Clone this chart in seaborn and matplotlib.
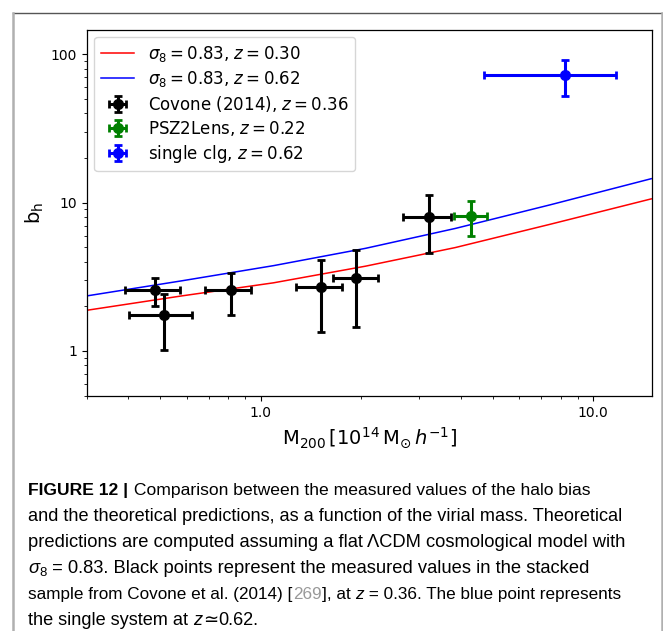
import matplotlib
matplotlib.use("Agg")
import matplotlib.pyplot as plt
import seaborn as sns
from matplotlib.lines import Line2D
from matplotlib.ticker import LogLocator, NullFormatter

# ---------------- data ----------------
curve_mass = [0.30, 0.579, 1.094, 2.07, 3.855, 7.44, 14.97]
bias_z030 = [1.88, 2.35, 2.88, 3.73, 4.98, 7.15, 10.6]
bias_z062 = [2.35, 2.97, 3.76, 4.92, 6.70, 9.67, 14.5]

covone_mass = [0.481, 0.512, 0.813, 1.52, 1.94, 3.21]
covone_mass_lo = [0.391, 0.402, 0.680, 1.28, 1.65, 2.68]
covone_mass_hi = [0.571, 0.620, 0.939, 1.76, 2.25, 3.75]
covone_bias = [2.57, 1.74, 2.57, 2.72, 3.10, 7.98]
covone_bias_lo = [2.01, 1.02, 1.76, 1.35, 1.45, 4.57]
covone_bias_hi = [3.11, 2.41, 3.38, 4.10, 4.81, 11.3]

psz_mass, psz_mass_lo, psz_mass_hi = [4.31], [3.81], [4.80]
psz_bias, psz_bias_lo, psz_bias_hi = [8.10], [5.93], [10.2]

clg_mass, clg_mass_lo, clg_mass_hi = [8.22], [4.71], [11.73]
clg_bias, clg_bias_lo, clg_bias_hi = [72.5], [52.3], [92.2]

legend_labels = [r"$\sigma_8 = 0.83$, $z = 0.30$",
                 r"$\sigma_8 = 0.83$, $z = 0.62$",
                 r"Covone (2014), $z = 0.36$",
                 r"PSZ2Lens, $z = 0.22$",
                 r"single clg, $z = 0.62$"]

x_ticks = [1.0, 10.0]
x_tick_labels = ["1.0", "10.0"]
y_ticks = [1, 10, 100]
y_tick_labels = ["1", "10", "100"]

# ---------------- figure ----------------
W, H = 663, 631
fig = plt.figure(figsize=(W / 100, H / 100), dpi=100)
fig.patch.set_facecolor("white")


def fx(px):
    return px / W


def fy(py):
    return 1 - py / H


ax = fig.add_axes([fx(86.7), fy(396), fx(651.5) - fx(86.7), fy(29.5) - fy(396)])
ax.set_xscale("log")
ax.set_yscale("log")

sns.lineplot(x=curve_mass, y=bias_z030, color="red", lw=1.1, label=legend_labels[0], ax=ax)
sns.lineplot(x=curve_mass, y=bias_z062, color="blue", lw=1.1, label=legend_labels[1], ax=ax)


def asym(v, lo, hi):
    return [[a - b for a, b in zip(v, lo)], [c - a for a, c in zip(v, hi)]]


eb_kw = dict(fmt="o", ms=7, elinewidth=2.2, capsize=3, capthick=2)
ax.errorbar(covone_mass, covone_bias, xerr=asym(covone_mass, covone_mass_lo, covone_mass_hi),
            yerr=asym(covone_bias, covone_bias_lo, covone_bias_hi), color="black",
            label=legend_labels[2], **eb_kw)
ax.errorbar(psz_mass, psz_bias, xerr=asym(psz_mass, psz_mass_lo, psz_mass_hi),
            yerr=asym(psz_bias, psz_bias_lo, psz_bias_hi), color="green",
            label=legend_labels[3], **eb_kw)
ax.errorbar(clg_mass, clg_bias, xerr=asym(clg_mass, clg_mass_lo, clg_mass_hi),
            yerr=asym(clg_bias, clg_bias_lo, clg_bias_hi), color="blue",
            label=legend_labels[4], **eb_kw)

ax.set_xlim(0.30, 15.0)
ax.set_ylim(0.497, 147)

ax.set_xticks(x_ticks)
ax.set_xticklabels(x_tick_labels)
ax.xaxis.set_minor_locator(LogLocator(base=10, subs=range(2, 10)))
ax.xaxis.set_minor_formatter(NullFormatter())
ax.set_yticks(y_ticks)
ax.set_yticklabels(y_tick_labels)
ax.yaxis.set_minor_locator(LogLocator(base=10, subs=range(2, 10)))
ax.yaxis.set_minor_formatter(NullFormatter())
ax.tick_params(which="major", labelsize=10, length=3.5, width=0.8, direction="out")
ax.tick_params(which="minor", length=2, width=0.6, direction="out")
for s in ax.spines.values():
    s.set_linewidth(0.9)

ax.set_xlabel(r"$\mathrm{M}_{200}\,[10^{14}\,\mathrm{M}_{\odot}\,h^{-1}]$", fontsize=14, labelpad=4)
ax.set_ylabel(r"$\mathrm{b}_\mathrm{h}$", fontsize=14, labelpad=3)

leg = ax.legend(loc="upper left", fontsize=12, framealpha=0.8, edgecolor="0.8",
                handlelength=2.0, labelspacing=0.3, borderaxespad=0.45)

# ---------------- frame around the figure ----------------
fig.add_artist(Line2D([fx(12.7), fx(661.7)], [fy(12.5), fy(12.5)], color="#555555", lw=1.0,
                      transform=fig.transFigure))
fig.add_artist(Line2D([fx(12.7), fx(12.7)], [fy(12.5), 0], color="#b0b0b0", lw=1.8,
                      transform=fig.transFigure))
fig.add_artist(Line2D([fx(661.7), fx(661.7)], [fy(12.5), 0], color="#b0b0b0", lw=1.8,
                      transform=fig.transFigure))

# ---------------- caption ----------------
cap_family = ["Liberation Sans", "DejaVu Sans"]
renderer = fig.canvas.get_renderer()

caption_lines = [
    [("FIGURE 12 |", "bold", "normal", "black", 1.0, 0),
     (" Comparison between the measured values of the halo bias", "normal", "normal", "black", 1.0, 0)],
    [("and the theoretical predictions, as a function of the virial mass. Theoretical",
      "normal", "normal", "black", 1.0, 0)],
    [("predictions are computed assuming a flat \u039bCDM cosmological model with",
      "normal", "normal", "black", 1.0, 0)],
    [("\u03c3", "normal", "italic", "black", 1.0, 0),
     ("8", "normal", "normal", "black", 0.72, -3),
     (" = 0.83. Black points represent the measured values in the stacked",
      "normal", "normal", "black", 1.0, 0)],
    [("sample from Covone et al. (2014) [", "normal", "normal", "black", 1.0, 0),
     ("269", "normal", "normal", "#999999", 1.0, 0),
     ("], at ", "normal", "normal", "black", 1.0, 0),
     ("z", "normal", "italic", "black", 1.0, 0),
     (" = 0.36. The blue point represents", "normal", "normal", "black", 1.0, 0)],
    [("the single system at ", "normal", "normal", "black", 1.0, 0),
     ("z", "normal", "italic", "black", 1.0, 0),
     ("\u2243", "normal", "normal", "black", 1.0, 0),
     ("0.62.", "normal", "normal", "black", 1.0, 0)],
]

# size the caption font so that the second line has the reference width
probe = fig.text(0, 0, caption_lines[1][0][0], fontsize=13, family=cap_family)
pw = probe.get_window_extent(renderer).width
probe.remove()
cap_size = 13 * 594.0 / pw

baselines = [495, 521, 547, 573, 599, 625]
line_ends = [588, 623, 624, 587, 619, 259]
x0 = 28.5


def measure(runs, size):
    total = 0
    for text, weight, style, color, scale, dy in runs:
        t = fig.text(0, 0, text, fontsize=size * scale, family=cap_family,
                     fontweight=weight, fontstyle=style)
        total += t.get_window_extent(renderer).width
        t.remove()
    return total


for runs, base, end in zip(caption_lines, baselines, line_ends):
    natural = measure(runs, cap_size)
    size = cap_size * min(1.04, max(0.94, (end - x0) / natural))
    x = x0
    for text, weight, style, color, scale, dy in runs:
        t = fig.text(fx(x), fy(base - dy), text, fontsize=size * scale, family=cap_family,
                     fontweight=weight, fontstyle=style, color=color, va="baseline", ha="left")
        x += t.get_window_extent(renderer).width

fig.savefig("out.png", dpi=100, facecolor="white")
